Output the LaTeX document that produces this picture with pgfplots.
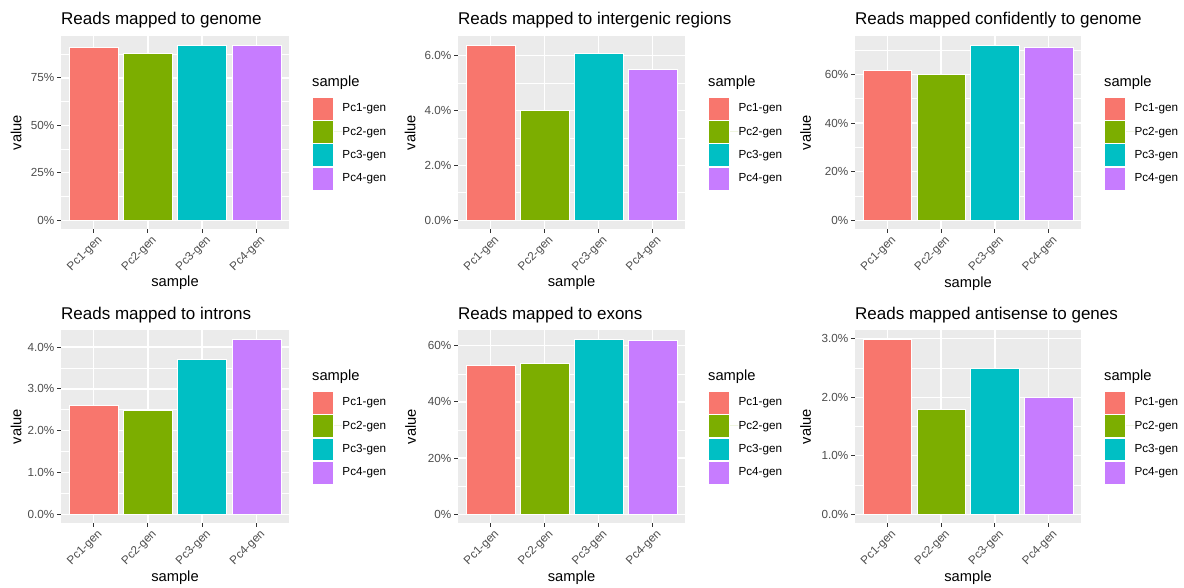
\documentclass[border=0pt]{standalone}
\usepackage{fontspec}
\setmainfont{Liberation Sans}
\usepackage{pgfplots}
\pgfplotsset{compat=1.18}
\definecolor{c1}{HTML}{F8766D}
\definecolor{c2}{HTML}{7CAE00}
\definecolor{c3}{HTML}{00BFC4}
\definecolor{c4}{HTML}{C77CFF}
\definecolor{gg92}{HTML}{EBEBEB}
\definecolor{gg30}{HTML}{4D4D4D}
\definecolor{gg20}{HTML}{333333}
\pgfplotsset{
  ggkey/.style={legend image code/.code={\path (0pt,0pt) -- (30pt,0pt); \path[##1] (0pt,-11.4pt) rectangle (21pt,11.4pt);}},
  ggbar/.style={ybar, bar width=0.9, bar shift=0pt, fill=#1, draw=white, line width=0.5pt, ggkey},
  ggpanel/.style={
    scale only axis, height=193pt, anchor=north west, clip=false,
    xmin=0.4, xmax=4.6,
    xtick={1,2,3,4}, xticklabels={Pc1-gen,Pc2-gen,Pc3-gen,Pc4-gen},
    axis background/.style={fill=gg92},
    axis line style={draw=none},
    tick align=outside, major tick length=3.7pt, minor tick length=0pt,
    tick pos=left,
    tick style={gg20, line width=1pt},
    xmajorgrids, ymajorgrids, yminorgrids,
    major grid style={white, line width=1.4pt},
    minor grid style={white, line width=0.7pt},
    ticklabel style={font=\fontsize{11.7}{14}\selectfont, text=gg30},
    yticklabel style={anchor=east, inner sep=0pt, xshift=-2.9pt},
    xticklabel style={rotate=45, anchor=north east, inner sep=0pt, yshift=-3.5pt, xshift=1pt},
    title style={at={(axis description cs:0,1)}, anchor=base west, yshift=5pt, inner sep=0pt, font=\fontsize{17}{20}\selectfont},
    xlabel={sample}, ylabel={value},
    label style={font=\fontsize{14.7}{17}\selectfont},
    xlabel style={at={(axis description cs:0.5,0)}, anchor=base, yshift=-58pt, inner sep=0pt},
    legend style={at={(axis description cs:1,0.5)}, anchor=west, xshift=23pt, yshift=-11pt,
      draw=none, fill=none, inner sep=0pt, outer sep=0pt, row sep=0pt,
      nodes={inner sep=0pt, font=\fontsize{11.7}{14}\selectfont, text=black}},
    legend cell align=left,
  },
  ggylab/.style={ylabel style={at={(axis description cs:0,0.5)}, anchor=center, inner sep=0pt, yshift=#1}},
}
\newcommand{\legtitle}{\node[anchor=west, inner sep=0pt, font=\fontsize{14.7}{17}\selectfont] at (axis description cs:1,0.5) [xshift=23pt, yshift=49.5pt] {sample};}
\begin{document}
\begin{tikzpicture}[x=1pt,y=1pt]
\path[use as bounding box] (0,0) rectangle (1184,-588);

% Panel 1
\begin{axis}[ggpanel, ggylab=45pt, at={(61pt,-36pt)}, width=228pt,
  ymin=-4.62, ymax=97.02, ytick={0,25,50,75}, yticklabels={0\%,25\%,50\%,75\%},
  minor ytick={12.5,37.5,62.5,87.5}, title={Reads mapped to genome}]
\addplot[ggbar=c1] coordinates {(1,90.9)};
\addplot[ggbar=c2] coordinates {(2,87.7)};
\addplot[ggbar=c3] coordinates {(3,92.4)};
\addplot[ggbar=c4] coordinates {(4,91.9)};
\legend{Pc1-gen,Pc2-gen,Pc3-gen,Pc4-gen}
\legtitle
\end{axis}

% Panel 2
\begin{axis}[ggpanel, ggylab=48pt, at={(458pt,-36pt)}, width=227pt,
  ymin=-0.32, ymax=6.72, ytick={0,2,4,6}, yticklabels={0.0\%,2.0\%,4.0\%,6.0\%},
  minor ytick={1,3,5}, title={Reads mapped to intergenic regions}]
\addplot[ggbar=c1] coordinates {(1,6.4)};
\addplot[ggbar=c2] coordinates {(2,4.0)};
\addplot[ggbar=c3] coordinates {(3,6.1)};
\addplot[ggbar=c4] coordinates {(4,5.5)};
\legend{Pc1-gen,Pc2-gen,Pc3-gen,Pc4-gen}
\legtitle
\end{axis}

% Panel 3
\begin{axis}[ggpanel, ggylab=49.5pt, at={(855pt,-36pt)}, width=226pt,
  ymin=-3.61, ymax=75.81, ytick={0,20,40,60}, yticklabels={0\%,20\%,40\%,60\%},
  minor ytick={10,30,50,70}, title={Reads mapped confidently to genome}]
\addplot[ggbar=c1] coordinates {(1,61.9)};
\addplot[ggbar=c2] coordinates {(2,60.2)};
\addplot[ggbar=c3] coordinates {(3,72.2)};
\addplot[ggbar=c4] coordinates {(4,71.3)};
\legend{Pc1-gen,Pc2-gen,Pc3-gen,Pc4-gen}
\legtitle
\end{axis}

% Panel 4
\begin{axis}[ggpanel, ggylab=45pt, at={(61pt,-330pt)}, width=228pt,
  ymin=-0.21, ymax=4.41, ytick={0,1,2,3,4}, yticklabels={0.0\%,1.0\%,2.0\%,3.0\%,4.0\%},
  minor ytick={0.5,1.5,2.5,3.5}, title={Reads mapped to introns}]
\addplot[ggbar=c1] coordinates {(1,2.6)};
\addplot[ggbar=c2] coordinates {(2,2.5)};
\addplot[ggbar=c3] coordinates {(3,3.7)};
\addplot[ggbar=c4] coordinates {(4,4.2)};
\legend{Pc1-gen,Pc2-gen,Pc3-gen,Pc4-gen}
\legtitle
\end{axis}

% Panel 5
\begin{axis}[ggpanel, ggylab=47.5pt, at={(458pt,-330pt)}, width=227pt,
  ymin=-3.125, ymax=65.625, ytick={0,20,40,60}, yticklabels={0\%,20\%,40\%,60\%},
  minor ytick={10,30,50}, title={Reads mapped to exons}]
\addplot[ggbar=c1] coordinates {(1,52.9)};
\addplot[ggbar=c2] coordinates {(2,53.9)};
\addplot[ggbar=c3] coordinates {(3,62.5)};
\addplot[ggbar=c4] coordinates {(4,61.8)};
\legend{Pc1-gen,Pc2-gen,Pc3-gen,Pc4-gen}
\legtitle
\end{axis}

% Panel 6
\begin{axis}[ggpanel, ggylab=49.5pt, at={(855pt,-330pt)}, width=226pt,
  ymin=-0.15, ymax=3.15, ytick={0,1,2,3}, yticklabels={0.0\%,1.0\%,2.0\%,3.0\%},
  minor ytick={0.5,1.5,2.5}, title={Reads mapped antisense to genes}]
\addplot[ggbar=c1] coordinates {(1,3.0)};
\addplot[ggbar=c2] coordinates {(2,1.8)};
\addplot[ggbar=c3] coordinates {(3,2.5)};
\addplot[ggbar=c4] coordinates {(4,2.0)};
\legend{Pc1-gen,Pc2-gen,Pc3-gen,Pc4-gen}
\legtitle
\end{axis}
\end{tikzpicture}
\end{document}
